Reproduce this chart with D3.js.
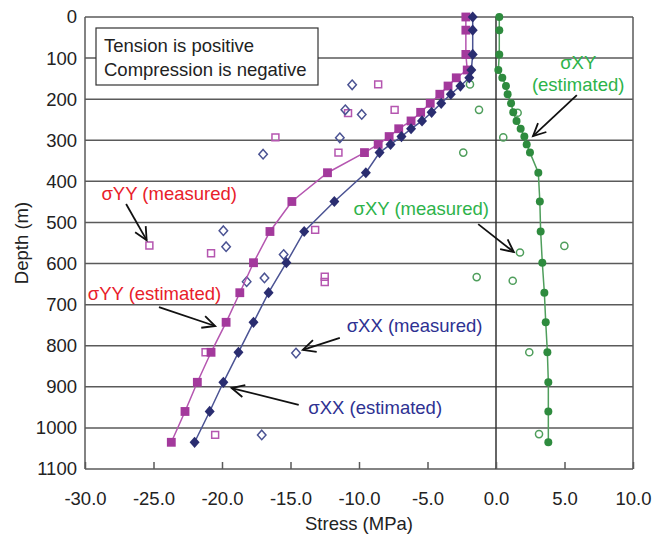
<!DOCTYPE html>
<html>
<head>
<meta charset="utf-8">
<script src="https://cdn.jsdelivr.net/npm/d3@7"></script>
<style>
  body { margin: 0; background: #fff; }
  svg { font-family: "Liberation Sans", Arial, sans-serif; }
</style>
</head>
<body>
<div id="chart"></div>
<script>
// depths (m) of the estimated profiles
const estDepth = [0, 32, 91, 129, 148, 168, 188, 210, 232, 253, 272, 291, 310, 330, 379, 449, 522, 598, 671, 743, 816, 889, 960, 1035];
// estimated stresses (MPa)
const syyEst = [-2.2, -2.2, -2.2, -2.1, -2.9, -3.5, -4.1, -4.8, -5.5, -6.2, -7.1, -7.8, -8.6, -9.6, -12.3, -14.9, -16.5, -17.7, -18.7, -19.7, -20.8, -21.8, -22.7, -23.7];
const sxxEst = [-1.7, -1.7, -1.7, -1.8, -1.95, -2.6, -3.3, -4.0, -4.7, -5.4, -6.2, -6.9, -7.7, -8.5, -9.5, -11.8, -14.0, -15.3, -16.6, -17.7, -18.8, -19.9, -20.9, -22.0];
const sxyEst = [0.24, 0.24, 0.24, 0.17, 0.46, 0.73, 0.85, 1.1, 1.26, 1.5, 1.8, 2.07, 2.24, 2.48, 3.09, 3.2, 3.26, 3.38, 3.53, 3.63, 3.75, 3.82, 3.82, 3.82];

// measured stresses: [stress, depth]
const syyMeas = [[-8.6, 164], [-7.4, 226], [-10.8, 234], [-16.1, 293], [-11.5, 330], [-13.2, 518], [-25.3, 556], [-20.8, 575], [-12.5, 632], [-12.5, 645], [-21.2, 816], [-20.5, 1017]];
const sxxMeas = [[-10.5, 165], [-11.0, 226], [-9.8, 237], [-11.4, 294], [-17.0, 334], [-19.9, 520], [-19.7, 559], [-15.5, 578], [-16.9, 635], [-18.2, 644], [-14.6, 818], [-17.1, 1017]];
const sxyMeas = [[-1.9, 164], [-1.24, 226], [1.58, 233], [0.53, 293], [-2.39, 330], [4.99, 557], [1.75, 573], [-1.41, 633], [1.22, 642], [2.43, 816], [3.14, 1015]];

// axis ticks
const stressTicks = [-30, -25, -20, -15, -10, -5, 0, 5, 10];
const depthTicks = [0, 100, 200, 300, 400, 500, 600, 700, 800, 900, 1000, 1100];

// annotations: label, colour, text anchor point, arrow tail and head (stress, depth)
const notes = [
    { text: ['σYY (measured)'], color: '#e8202a', at: [-28.8, 428], anchor: 'start', from: [-27.0, 455], to: [-25.5, 543] },
    { text: ['σYY (estimated)'], color: '#e8202a', at: [-29.8, 672], anchor: 'start', from: [-24.6, 706], to: [-20.5, 752] },
    { text: ['σXX (measured)'], color: '#2e3192', at: [-10.9, 749], anchor: 'start', from: [-11.4, 781], to: [-14.1, 810] },
    { text: ['σXX (estimated)'], color: '#2e3192', at: [-13.7, 949], anchor: 'start', from: [-14.4, 944], to: [-19.3, 903] },
    { text: ['σXY (measured)'], color: '#2db34a', at: [-10.4, 465], anchor: 'start', from: [-1.3, 504], to: [1.3, 572] },
    { text: ['σXY', '(estimated)'], color: '#2db34a', at: [6.0, 109], anchor: 'middle', from: [5.9, 190], to: [2.7, 290] }
];

const width = 652, height = 534;
const margin = { top: 17, right: 19, bottom: 65, left: 85 };
const fontSize = 18.5;

const svg = d3.select('#chart').append('svg')
    .attr('width', width)
    .attr('height', height);

const x = d3.scaleLinear([-30, 10], [margin.left, width - margin.right]);
const y = d3.scaleLinear([0, 1100], [margin.top, height - margin.bottom]);

const gridColor = '#5a5a5a';

// horizontal grid
svg.append('g')
    .selectAll('line')
    .data(depthTicks)
    .join('line')
    .attr('x1', x(-30)).attr('x2', x(10))
    .attr('y1', d => y(d)).attr('y2', d => y(d))
    .attr('stroke', gridColor)
    .attr('stroke-width', 1.5);

// vertical lines: left axis, zero and right border
svg.append('g')
    .selectAll('line')
    .data([-30, 0, 10])
    .join('line')
    .attr('x1', d => x(d)).attr('x2', d => x(d))
    .attr('y1', y(0)).attr('y2', y(1100))
    .attr('stroke', d => d === 0 ? '#333' : gridColor)
    .attr('stroke-width', 1.5);

// bottom axis, ticks pointing up
const axisX = svg.append('g')
    .attr('transform', `translate(0, ${y(1100)})`)
    .call(d3.axisBottom(x).tickValues(stressTicks).tickSizeInner(-7).tickSizeOuter(0)
        .tickPadding(23).tickFormat(d => d.toFixed(1)));
axisX.select('.domain').remove();
axisX.selectAll('line').attr('stroke', gridColor).attr('stroke-width', 1.5);
axisX.selectAll('text').attr('font-size', fontSize).attr('fill', '#222').style('font-family', '"Liberation Sans", Arial, sans-serif');

// left axis labels
const axisY = svg.append('g')
    .attr('transform', `translate(${x(-30)}, 0)`)
    .call(d3.axisLeft(y).tickValues(depthTicks).tickSize(0).tickPadding(8).tickFormat(d => String(d)));
axisY.select('.domain').remove();
axisY.selectAll('text').attr('font-size', fontSize).attr('fill', '#222').style('font-family', '"Liberation Sans", Arial, sans-serif');

// axis titles
svg.append('text')
    .attr('transform', `translate(${(x(-30) + x(10)) / 2}, ${height - 4})`)
    .attr('text-anchor', 'middle')
    .attr('font-size', fontSize)
    .attr('fill', '#222')
    .text('Stress (MPa)');

svg.append('text')
    .attr('transform', `translate(28, ${(y(0) + y(1100)) / 2})rotate(-90)`)
    .attr('text-anchor', 'middle')
    .attr('font-size', fontSize)
    .attr('fill', '#222')
    .text('Depth (m)');

// sign convention box
const box = svg.append('g').attr('transform', 'translate(96, 28)');
box.append('rect')
    .attr('width', 222).attr('height', 57)
    .attr('fill', '#fff')
    .attr('stroke', '#333')
    .attr('stroke-width', 1.2);
box.append('text')
    .attr('x', 8).attr('y', 24)
    .attr('font-size', fontSize).attr('fill', '#222')
    .text('Tension is positive');
box.append('text')
    .attr('x', 8).attr('y', 48)
    .attr('font-size', fontSize).attr('fill', '#222')
    .text('Compression is negative');

// marker shapes
const diamond = {
    draw(ctx, size) {
        const w = Math.sqrt(size) * 0.5, h = Math.sqrt(size) * 0.56;
        ctx.moveTo(0, -h); ctx.lineTo(w, 0); ctx.lineTo(0, h); ctx.lineTo(-w, 0); ctx.closePath();
    }
};

const series = [
    { values: syyEst, meas: syyMeas, color: '#a3399c', line: '#b556b0', type: d3.symbolSquare, size: 78, openSize: 48 },
    { values: sxxEst, meas: sxxMeas, color: '#2a2d70', line: '#4b5393', type: diamond, size: 100, openSize: 72 },
    { values: sxyEst, meas: sxyMeas, color: '#2e8b3e', line: '#4f9e5c', type: d3.symbolCircle, size: 50, openSize: 40 }
];

const line = d3.line()
    .x(d => x(d[0]))
    .y(d => y(d[1]));

// measured points (open)
series.forEach(s => {
    svg.append('g')
        .selectAll('path')
        .data(s.meas)
        .join('path')
        .attr('transform', d => `translate(${x(d[0])}, ${y(d[1])})`)
        .attr('d', d3.symbol(s.type, s.openSize))
        .attr('fill', 'none')
        .attr('stroke', s.line)
        .attr('stroke-width', 1.5);
});

// estimated profiles (line + filled markers)
series.forEach(s => {
    const pts = s.values.map((v, i) => [v, estDepth[i]]);

    svg.append('path')
        .datum(pts)
        .attr('d', line)
        .attr('fill', 'none')
        .attr('stroke', s.line)
        .attr('stroke-width', 1.5);

    svg.append('g')
        .selectAll('path')
        .data(pts)
        .join('path')
        .attr('transform', d => `translate(${x(d[0])}, ${y(d[1])})`)
        .attr('d', d3.symbol(s.type, s.size))
        .attr('fill', s.color);
});

// annotations
const ann = svg.append('g');
notes.forEach(n => {
    const t = ann.append('text')
        .attr('x', x(n.at[0]))
        .attr('y', y(n.at[1]))
        .attr('text-anchor', n.anchor)
        .attr('dominant-baseline', 'central')
        .attr('font-size', fontSize)
        .attr('fill', n.color);
    n.text.forEach((s, i) => {
        t.append('tspan')
            .attr('x', x(n.at[0]))
            .attr('dy', i === 0 ? 0 : 22)
            .text(s);
    });

    // arrow shaft and open head
    const x1 = x(n.from[0]), y1 = y(n.from[1]), x2 = x(n.to[0]), y2 = y(n.to[1]);
    const ang = Math.atan2(y2 - y1, x2 - x1), len = 14, spread = 0.45;
    ann.append('line')
        .attr('x1', x1).attr('y1', y1).attr('x2', x2).attr('y2', y2)
        .attr('stroke', '#111').attr('stroke-width', 1.8);
    ann.append('path')
        .attr('d', `M${x2 - len * Math.cos(ang - spread)},${y2 - len * Math.sin(ang - spread)}L${x2},${y2}L${x2 - len * Math.cos(ang + spread)},${y2 - len * Math.sin(ang + spread)}`)
        .attr('fill', 'none')
        .attr('stroke', '#111').attr('stroke-width', 1.8);
});
</script>
</body>
</html>
